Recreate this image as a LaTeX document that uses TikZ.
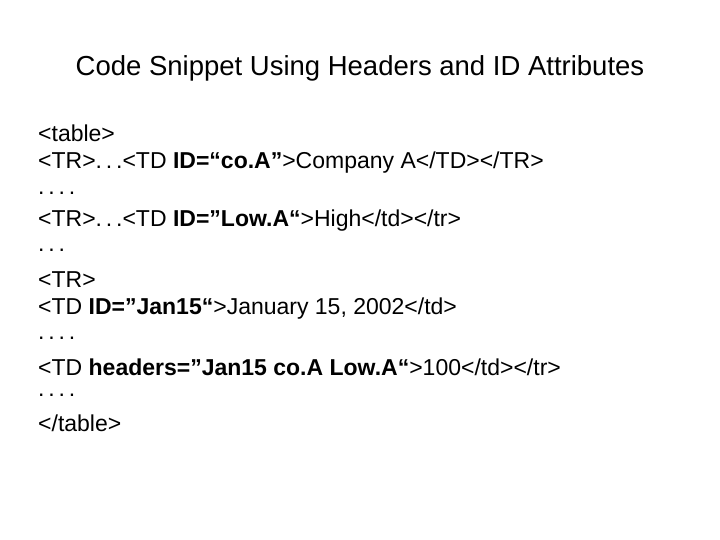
\documentclass[tikz,border=0pt]{standalone}
\usepackage{fontspec}
\setmainfont{Liberation Sans}
\newcommand\qq{\symbol{34}}
\begin{document}
\begin{tikzpicture}[x=1pt,y=1pt,
  ttl/.style={anchor=center,inner sep=0pt,font=\fontsize{27.5}{32}\selectfont},
  ln/.style={anchor=west,inner sep=0pt,font=\fontsize{23}{27}\selectfont}]
\useasboundingbox (0,0) rectangle (720,540);
\node[ttl] (t) at (360,472) {Code Snippet Using Headers and ID Attributes};
\node[ln] (l1) at (38,407) {<table>};
\node[ln] (l2) at (38,377) {<TR>.\,.\,.<TD \textbf{ID=“co.A”}>Company A</TD></TR>};
\node[ln] (l3) at (38,347) {.\,.\,.\,.};
\node[ln] (l4) at (38,319) {<TR>.\,.\,.<TD \textbf{ID=\qq Low.A“}>High</td></tr>};
\node[ln] (l5) at (38,290) {.\,.\,.};
\node[ln] (l6) at (38,260) {<TR>};
\node[ln] (l7) at (38,231) {<TD \textbf{ID=\qq Jan15“}>January 15, 2002</td>};
\node[ln] (l8) at (38,202) {.\,.\,.\,.};
\node[ln] (l9) at (38,173) {<TD \textbf{headers=\qq Jan15 co.A Low.A“}>100</td></tr>};
\node[ln] (l10) at (38,145) {.\,.\,.\,.};
\node[ln] (l11) at (38,117) {</table>};
\end{tikzpicture}
\end{document}
